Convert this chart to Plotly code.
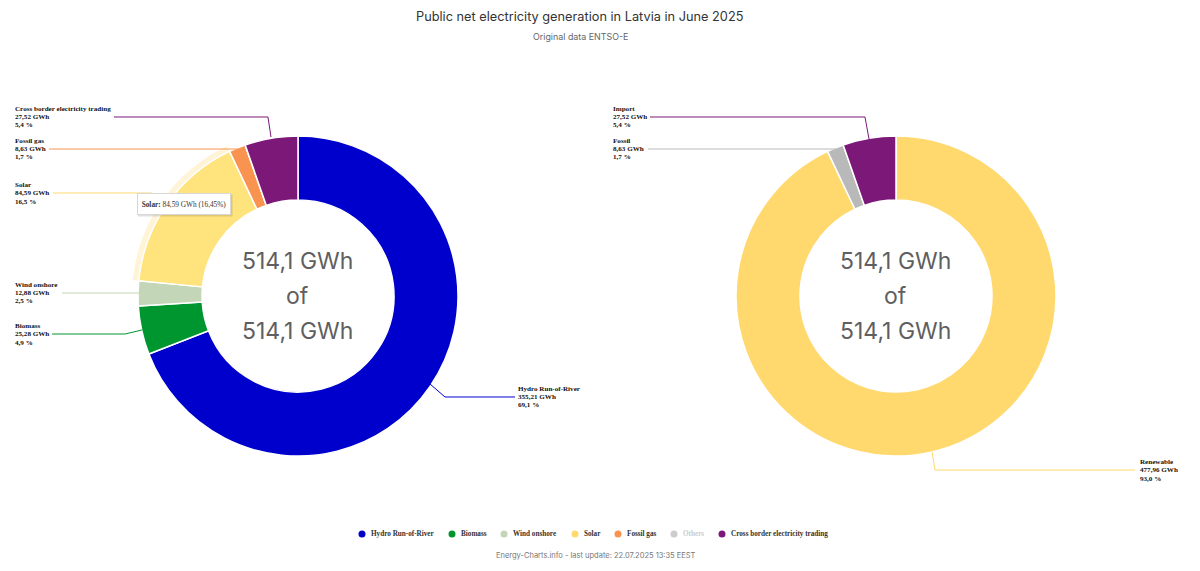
import plotly.graph_objects as go

# left donut
source_names = ['Hydro Run-of-River', 'Biomass', 'Wind onshore', 'Solar', 'Fossil gas', 'Others', 'Cross border electricity trading']
source_gwh = [355.21, 25.28, 12.88, 84.59, 8.63, 0, 27.52]
source_gwh_txt = ['355,21', '25,28', '12,88', '84,59', '8,63', '0', '27,52']
source_pct_txt = ['69,1', '4,9', '2,5', '16,5', '1,7', '0', '5,4']
source_colors = ['#0000CC', '#00962F', '#C3D6B7', '#FFD86E', '#F89450', '#C4C4C4', '#7B1878']

# right donut
group_names = ['Renewable', 'Fossil', 'Import']
group_gwh = [477.96, 8.63, 27.52]
group_gwh_txt = ['477,96', '8,63', '27,52']
group_pct_txt = ['93,0', '1,7', '5,4']
group_colors = ['#FFD86E', '#B9B9B9', '#7B1878']

W, H = 1200, 571
SERIF = 'Liberation Serif'
SANS = 'Inter'


def px(x):
    return x / W


def py(y):
    return 1 - y / H


def pie_domain(cx, cy, r):
    return dict(x=[px(cx - r), px(cx + r)], y=[py(cy + r), py(cy - r)])


def add_text(x, y, text, size, color, family=SANS, anchor='center'):
    fig.add_annotation(
        x=px(x), y=py(y), xref='paper', yref='paper', xanchor=anchor, yanchor='middle',
        text=text, showarrow=False, borderpad=0, font=dict(family=family, size=size, color=color),
    )


fig = go.Figure()

# hover halo around the solar slice
halo_colors = ['rgba(0,0,0,0)'] * len(source_names)
halo_colors[3] = 'rgba(255,216,110,0.28)'
fig.add_trace(go.Pie(
    values=source_gwh, labels=source_names, sort=False, direction='clockwise', rotation=0,
    hole=160 / 166, domain=pie_domain(298, 296, 166), textinfo='none', hoverinfo='skip',
    marker=dict(colors=halo_colors, line=dict(width=0)), showlegend=False,
))

# the solar slice is drawn lighter because it is hovered
left_colors = list(source_colors)
left_colors[3] = '#FFE37D'
fig.add_trace(go.Pie(
    values=source_gwh, labels=source_names, sort=False, direction='clockwise', rotation=0,
    hole=0.6, domain=pie_domain(298, 296, 160), textinfo='none', hoverinfo='skip',
    marker=dict(colors=left_colors, line=dict(color='white', width=1.5)), showlegend=False,
))
fig.add_trace(go.Pie(
    values=group_gwh, labels=group_names, sort=False, direction='clockwise', rotation=0,
    hole=0.6, domain=pie_domain(896, 296, 160), textinfo='none', hoverinfo='skip',
    marker=dict(colors=group_colors, line=dict(color='white', width=1.5)), showlegend=False,
))

# x and y of the first line of each outside label
left_label_pos = [(517, 388.5), (14, 326), (14, 284.5), (14, 185), (14, 140.5), None, (14, 108.5)]
right_label_pos = [(1139, 462), (612, 140.5), (612, 108.5)]
LINE_STEP = 8.4


def add_label(pos, name, gwh, pct):
    for i, line in enumerate((name, f'{gwh} GWh', f'{pct} %')):
        add_text(pos[0], pos[1] + i * LINE_STEP, f'<b>{line}</b>', 7.1, '#111111', SERIF, 'left')


for pos, name, gwh, pct in zip(left_label_pos, source_names, source_gwh_txt, source_pct_txt):
    if pos:
        add_label(pos, name, gwh, pct)
for pos, name, gwh, pct in zip(right_label_pos, group_names, group_gwh_txt, group_pct_txt):
    add_label(pos, name, gwh, pct)

# leader lines
leaders = [
    ([(430, 384), (445, 397), (515, 397)], '#0000CC'),
    ([(52, 334), (125, 334), (142, 330)], '#00962F'),
    ([(62, 293), (139, 293)], '#C3D6B7'),
    ([(53, 193), (152, 193)], '#FFD86E'),
    ([(49, 149), (238, 149), (240, 155)], '#F89450'),
    ([(114, 117), (268, 117), (271, 137)], '#7B1878'),
    ([(932, 452), (935, 470), (1135, 470)], '#FFD86E'),
    ([(648, 149), (836, 149), (838, 155)], '#B9B9B9'),
    ([(650, 117), (865, 117), (869, 139)], '#7B1878'),
]
for pts, color in leaders:
    path = 'M ' + ' L '.join(f'{px(a):.5f} {py(b):.5f}' for a, b in pts)
    fig.add_shape(type='path', path=path, xref='paper', yref='paper', line=dict(color=color, width=1), layer='above')

# centre text
for cx in (296, 894):
    for y, line in zip((261, 296, 331), ('514,1 GWh', 'of', '514,1 GWh')):
        add_text(cx + 1, y, line, 23, '#5F5F5F')

# tooltip
fig.add_shape(type='rect', x0=px(138), x1=px(232.5), y0=py(194.5), y1=py(216.5), xref='paper', yref='paper',
              fillcolor='rgba(0,0,0,0.12)', line=dict(width=0), layer='above')
fig.add_annotation(
    x=px(184), y=py(204), xref='paper', yref='paper', xanchor='center', yanchor='middle',
    showarrow=False, width=92, height=20,
    text='<b>Solar:</b> 84,59 GWh (16,45%)', font=dict(family=SERIF, size=7.3, color='#333333'),
    bgcolor='white', bordercolor='#D8D8D8', borderwidth=1, borderpad=0,
)

# legend, drawn by hand to keep the tight spacing of the original
legend_marker_x = [362, 452, 504, 575, 618, 674, 722]
for name, color, mx in zip(source_names, source_colors, legend_marker_x):
    others = name == 'Others'
    fig.add_shape(type='circle', xref='paper', yref='paper', x0=px(mx - 3.5), x1=px(mx + 3.5),
                  y0=py(534 + 3.5), y1=py(534 - 3.5), line=dict(width=0),
                  fillcolor='#CCCCCC' if others else color)
    add_text(mx + 7.5, 534, f'<b>{name}</b>', 7.2, '#CCCCCC' if others else '#333333', SERIF, 'left')

# titles
add_text(579.5, 17, 'Public net electricity generation in Latvia in June 2025', 12.75, '#333333')
add_text(580, 36, 'Original data ENTSO-E', 8.9, '#666666')
add_text(596, 555, 'Energy-Charts.info - last update: 22.07.2025 13:35 EEST', 7.5, '#777777')

fig.update_layout(
    width=W, height=H, margin=dict(l=0, r=0, t=0, b=0),
    paper_bgcolor='white', plot_bgcolor='white', showlegend=False,
)
fig.write_html('out.html', config=dict(displayModeBar=False), post_script="document.body.style.margin='0';")
